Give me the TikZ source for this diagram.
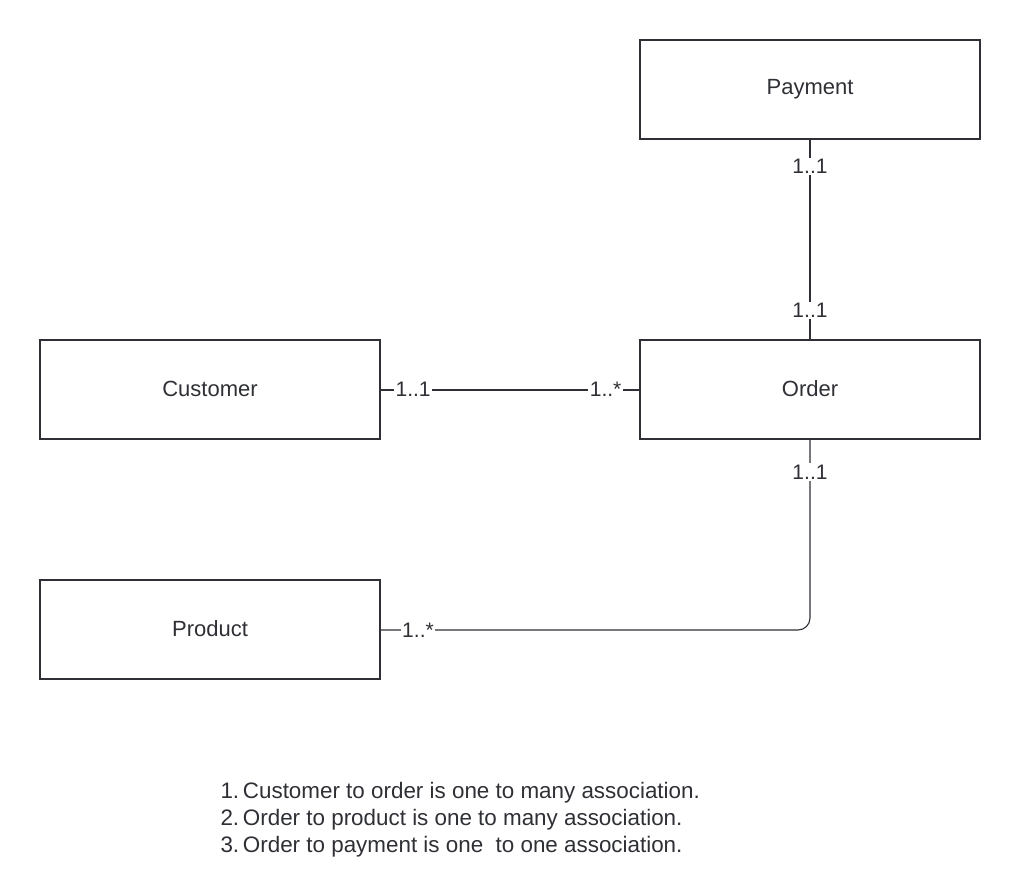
\documentclass[tikz,border=0pt]{standalone}
\usepackage{fontspec}
\setmainfont{Liberation Sans}
\begin{document}
\begin{tikzpicture}[x=1pt,y=-1pt,
  entity/.style={draw=ink,line width=1.6pt,minimum width=340pt,minimum height=99pt,inner sep=0pt,font=\fontsize{22}{26}\selectfont,text=ink},
  assoc/.style={draw=ink,line width=1.7pt},
  mult/.style={fill=white,inner sep=1.5pt,font=\fontsize{21}{24}\selectfont,text=ink}]
\definecolor{ink}{HTML}{2E3035}
\useasboundingbox (0,0) rectangle (1020,880);
\node[entity] (pay) at (810,89.5) {\raisebox{2pt}{Payment}};
\node[entity] (cust) at (210,389.5) {\raisebox{2pt}{Customer}};
\node[entity] (ord) at (810,389.5) {\raisebox{2pt}{Order}};
\node[entity] (prod) at (210,629.5) {\raisebox{2pt}{Product}};
\coordinate (corner) at (810,630);
\draw[assoc] (pay.south) -- (ord.north)
  node[mult,pos=0.135] {1..1} node[mult,pos=0.855] {1..1};
\draw[assoc,line width=2pt] (cust.east) -- (ord.west)
  node[mult,pos=0.125] {1..1} node[mult,pos=0.87] {1..*};
\draw[assoc,line width=1.1pt,rounded corners=12pt] (ord.south) -- (corner) -- (prod.east |- corner);
\node[mult] at (810,472) {1..1};
\node[mult] at (418,630) {1..*};
\node[anchor=north west,align=left,text=ink,font=\fontsize{22.4}{27}\selectfont] (notes) at (217,779)
  {1.\,Customer to order is one to many association.\\
   2.\,Order to product is one to many association.\\
   3.\,Order to payment is one\ \ to one association.};
\end{tikzpicture}
\end{document}
